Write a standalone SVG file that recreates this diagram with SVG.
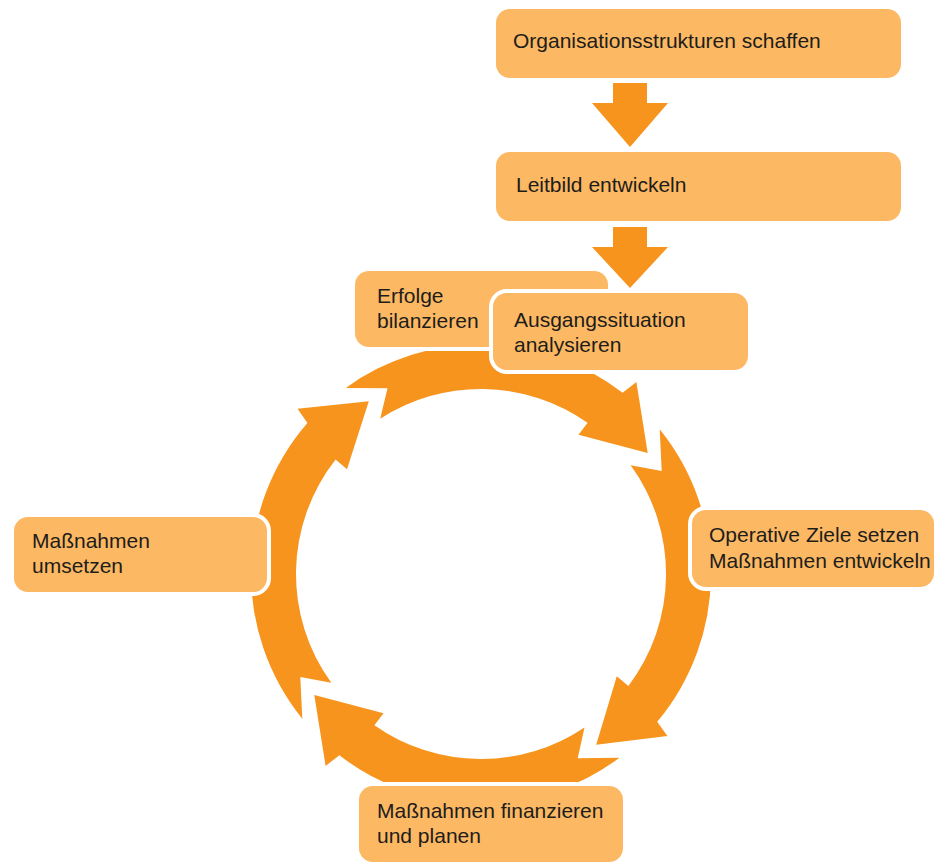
<svg xmlns="http://www.w3.org/2000/svg" width="936" height="864" viewBox="0 0 936 864">
<style>
.box{fill:#FCB862;stroke:#FFFFFF;stroke-width:8;paint-order:stroke fill;}
.arr{fill:#F7941D;}
.lbl{font-family:"Liberation Sans",Arial,sans-serif;font-size:21px;fill:#1D1D1B;}
</style>
<rect width="936" height="864" fill="#FFFFFF"/>
<g id="connectors">
  <polygon class="arr" points="613,83 647,83 647,103 668,103 630,147 592,103 613,103"/>
  <polygon class="arr" points="613,227 647,227 647,247 668,247 630,288 592,247 613,247"/>
  <path class="arr" d="M 345.8 387.9 A 230 230 0 0 1 622.6 392.8 L 636.4 382.1 L 647.7 452.9 L 578.5 434.7 L 587.6 422.8 A 185 185 0 0 0 380.2 418.8 L 387.5 388.2 Z"/>
  <path class="arr" d="M 659.7 429.3 A 230 230 0 0 1 657.2 721.8 L 667.4 736.1 L 596.2 744.8 L 616.8 676.3 L 628.4 685.9 A 185 185 0 0 0 630.7 465.3 L 661.7 470.9 Z"/>
  <path class="arr" d="M 619.4 757.7 A 230 230 0 0 1 339.4 755.2 L 325.6 765.9 L 314.3 695.1 L 383.5 713.3 L 374.4 725.2 A 185 185 0 0 0 584.5 727.4 L 577.7 758.2 Z"/>
  <path class="arr" d="M 302.3 718.7 A 230 230 0 0 1 307.4 423.1 L 297.5 408.7 L 368.8 401.2 L 347 469.3 L 335.6 459.6 A 185 185 0 0 0 331.3 682.7 L 300.3 677.1 Z"/>
</g>
<g id="node-organisation">
  <rect class="box" x="496" y="9" width="405" height="69" rx="14"/>
  <text class="lbl" x="513" y="48">Organisationsstrukturen schaffen</text>
</g>
<g id="node-leitbild">
  <rect class="box" x="496" y="152" width="405" height="69" rx="14"/>
  <text class="lbl" x="516" y="192">Leitbild entwickeln</text>
</g>
<g id="node-erfolge">
  <rect class="box" x="355" y="271" width="253" height="76" rx="14"/>
  <text class="lbl" x="377" y="303">Erfolge</text>
  <text class="lbl" x="377" y="328">bilanzieren</text>
</g>
<g id="node-ausgang">
  <rect class="box" x="493" y="293" width="255" height="77" rx="14"/>
  <text class="lbl" x="514" y="327">Ausgangssituation</text>
  <text class="lbl" x="514" y="352">analysieren</text>
</g>
<g id="node-operative">
  <rect class="box" x="692" y="510" width="242" height="77" rx="14"/>
  <text class="lbl" x="709" y="542">Operative Ziele setzen</text>
  <text class="lbl" x="709" y="568">Maßnahmen entwickeln</text>
</g>
<g id="node-umsetzen">
  <rect class="box" x="14" y="517" width="253" height="75" rx="14"/>
  <text class="lbl" x="32" y="548">Maßnahmen</text>
  <text class="lbl" x="32" y="573">umsetzen</text>
</g>
<g id="node-finanzieren">
  <rect class="box" x="359" y="786" width="264" height="76" rx="14"/>
  <text class="lbl" x="377" y="818">Maßnahmen finanzieren</text>
  <text class="lbl" x="377" y="843">und planen</text>
</g>
</svg>
